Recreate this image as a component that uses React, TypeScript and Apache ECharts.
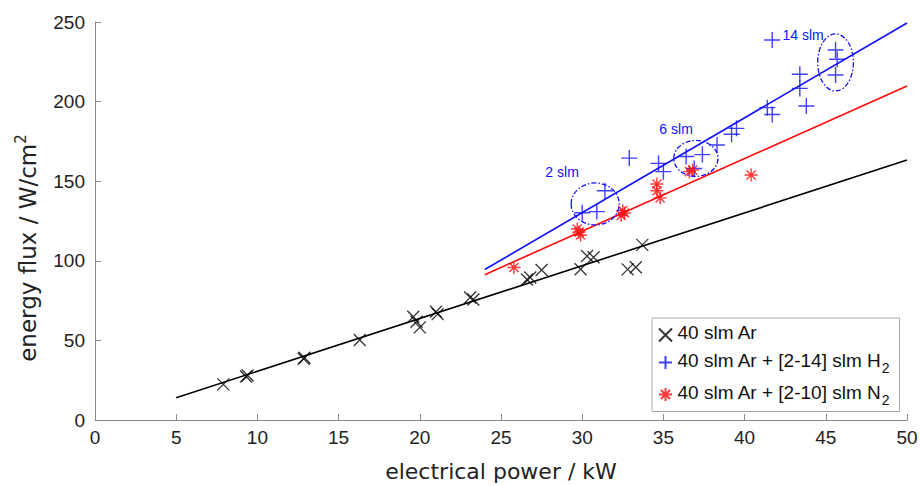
import React, { useEffect, useRef } from "react";
import * as echarts from "echarts";

const xTicks = [0, 5, 10, 15, 20, 25, 30, 35, 40, 45, 50];
const yTicks = [0, 50, 100, 150, 200, 250];

const arPower = [7.9, 9.3, 9.4, 12.85, 12.9, 16.3, 19.6, 19.8, 20.0, 21.0, 21.1, 23.1, 23.3, 26.6, 26.8, 27.5, 29.9, 30.3, 30.7, 32.8, 33.3, 33.7];
const arFlux = [22.4, 27.3, 28.0, 38.5, 39.1, 50.3, 64.9, 61.7, 58.2, 68.0, 66.5, 77.0, 75.7, 88.3, 89.5, 94.2, 94.7, 103.0, 102.2, 94.6, 95.9, 110.0];

const h2Power = [30.0, 30.9, 31.4, 32.9, 34.7, 35.0, 36.4, 37.4, 36.9, 38.3, 39.2, 39.5, 41.4, 41.7, 41.7, 43.4, 43.4, 43.8, 45.6, 45.7, 45.6];
const h2Flux = [130.2, 130.9, 144.0, 164.5, 161.2, 156.0, 165.5, 166.7, 158.0, 172.7, 179.5, 183.2, 196.2, 191.9, 238.7, 217.2, 208.3, 197.2, 232.4, 226.6, 216.7];

const n2Power = [25.8, 29.7, 29.9, 29.8, 32.5, 32.4, 32.6, 34.6, 34.6, 34.8, 36.6, 36.8, 40.4];
const n2Flux = [95.8, 120.0, 116.2, 118.0, 131.5, 128.5, 130.0, 148.2, 144.0, 139.5, 156.0, 157.0, 153.9];

const arFitX = [5, 50];
const arFitY = [14.0, 163.3];
const h2FitX = [24, 50];
const h2FitY = [94.5, 249.4];
const n2FitX = [24, 50];
const n2FitY = [91.3, 209.8];

// ellipse centers (x, y) and radii (x, y) in data units
const ellipseCx = [30.8, 37.0, 45.6];
const ellipseCy = [135.7, 164.3, 224.6];
const ellipseRx = [1.48, 1.36, 1.1];
const ellipseRy = [13.2, 11.3, 17.9];

const noteText = ["2 slm", "6 slm", "14 slm"];
const noteX = [28.76, 35.78, 43.6];
const noteY = [155.8, 182.8, 241.8];

const seriesNames = ["40 slm Ar", "40 slm Ar + [2-14] slm H2", "40 slm Ar + [2-10] slm N2"];

const FONT = "'Liberation Sans', Arial, Helvetica, sans-serif";
const TFONT = "'DejaVu Sans', 'Liberation Sans', Arial, sans-serif";
const BLUE = "#1010ff";
const RED = "#ff0a0a";

const crossPath = "path://M0,0L10,10M10,0L0,10";
const plusPath = "path://M5,0L5,10M0,5L10,5";
const starPath = "path://M5,0L5,10M0,5L10,5M1.5,1.5L8.5,8.5M1.5,8.5L8.5,1.5";

const zip = (a: number[], b: number[]) => a.map((v, i) => [v, b[i]]);

export default function App() {
  const ref = useRef<HTMLDivElement>(null);
  useEffect(() => {
    if (!ref.current) return;
    const chart = echarts.init(ref.current, undefined, { renderer: "svg" });
    const axisColor = "#8a8a8a";
    const option: any = {
      animation: false,
      backgroundColor: "#ffffff",
      textStyle: { fontFamily: FONT },
      grid: { left: 95, right: 13, top: 22, bottom: 66, outerBoundsMode: "none" },
      xAxis: {
        type: "value",
        min: 0,
        max: 50,
        interval: 5,
        name: "electrical power / kW",
        nameLocation: "middle",
        nameGap: 40,
        nameTextStyle: { fontSize: 22, color: "#222", fontFamily: TFONT },
        axisLine: { show: true, lineStyle: { color: axisColor, width: 1 } },
        axisTick: { show: true, inside: true, length: 6, lineStyle: { color: axisColor } },
        axisLabel: {
          fontSize: 19,
          color: "#222",
          margin: 8,
          fontFamily: FONT,
          formatter: (v: number) => (xTicks.includes(v) ? String(v) : ""),
        },
        splitLine: { show: false },
      },
      yAxis: {
        type: "value",
        min: 0,
        max: 250,
        interval: 50,
        name: "{a|energy flux / W/cm}{s|2}",
        nameLocation: "middle",
        nameGap: 56,
        nameTextStyle: {
          color: "#222",
          fontFamily: TFONT,
          padding: [0, 54, 0, 0],
          rich: {
            a: { fontSize: 23, color: "#222", fontFamily: TFONT, lineHeight: 26, verticalAlign: "bottom" },
            s: { fontSize: 15, color: "#222", fontFamily: TFONT, lineHeight: 26, verticalAlign: "top" },
          },
        },
        axisLine: { show: true, lineStyle: { color: axisColor, width: 1 } },
        axisTick: { show: true, inside: true, length: 6, lineStyle: { color: axisColor } },
        axisLabel: {
          fontSize: 19,
          color: "#222",
          margin: 10,
          fontFamily: FONT,
          formatter: (v: number) => (yTicks.includes(v) ? String(v) : ""),
        },
        splitLine: { show: false },
      },
      legend: {
        orient: "vertical",
        left: 652,
        top: 318,
        data: seriesNames,
        backgroundColor: "#ffffff",
        borderColor: "#aaaaaa",
        borderWidth: 1,
        borderRadius: 0,
        padding: [5, 10, 5, 6],
        itemGap: 7,
        itemWidth: 14,
        itemHeight: 13,
        formatter: (name: string) => {
          if (name.endsWith("H2")) return "{t|40 slm Ar + [2-14] slm H}{s|2}";
          if (name.endsWith("N2")) return "{t|40 slm Ar + [2-10] slm N}{s|2}";
          return "{t|" + name + "}";
        },
        textStyle: {
          fontFamily: FONT,
          color: "#111",
          rich: {
            t: { fontSize: 19, color: "#111", fontFamily: FONT, lineHeight: 24, verticalAlign: "top" },
            s: { fontSize: 14, color: "#111", fontFamily: FONT, lineHeight: 24, verticalAlign: "bottom", padding: [11, 0, 0, 0] },
          },
        },
      },
      series: [
        {
          type: "line",
          data: zip(arFitX, arFitY),
          symbol: "none",
          lineStyle: { color: "#000", width: 1.6 },
          silent: true,
          z: 1,
        },
        {
          type: "line",
          data: zip(h2FitX, h2FitY),
          symbol: "none",
          lineStyle: { color: BLUE, width: 1.6 },
          silent: true,
          z: 1,
        },
        {
          type: "line",
          data: zip(n2FitX, n2FitY),
          symbol: "none",
          lineStyle: { color: RED, width: 1.6 },
          silent: true,
          z: 1,
        },
        {
          name: seriesNames[0],
          type: "scatter",
          data: zip(arPower, arFlux),
          symbol: crossPath,
          symbolSize: 12,
          itemStyle: { color: "rgba(0,0,0,0)", borderColor: "#000", borderWidth: 1.3 },
          z: 3,
        },
        {
          name: seriesNames[1],
          type: "scatter",
          data: zip(h2Power, h2Flux),
          symbol: plusPath,
          symbolSize: 16,
          itemStyle: { color: "rgba(0,0,0,0)", borderColor: BLUE, borderWidth: 1.4 },
          z: 3,
        },
        {
          name: seriesNames[2],
          type: "scatter",
          data: zip(n2Power, n2Flux),
          symbol: starPath,
          symbolSize: 13,
          itemStyle: { color: "rgba(0,0,0,0)", borderColor: RED, borderWidth: 1.4 },
          z: 3,
        },
        {
          type: "custom",
          silent: true,
          z: 4,
          data: ellipseCx.map((cx, i) => [cx, ellipseCy[i], ellipseRx[i], ellipseRy[i]]),
          encode: { x: 0, y: 1 },
          renderItem: (params: any, api: any) => {
            const c = api.coord([api.value(0), api.value(1)]);
            const s = api.size([api.value(2), api.value(3)]);
            return {
              type: "ellipse",
              shape: { cx: c[0], cy: c[1], rx: s[0], ry: s[1] },
              style: { fill: "none", stroke: BLUE, lineWidth: 1.3, lineDash: [5, 2, 1.5, 2] },
            };
          },
        },
        {
          type: "custom",
          silent: true,
          z: 4,
          data: noteX.map((x, i) => [x, noteY[i]]),
          encode: { x: 0, y: 1 },
          renderItem: (params: any, api: any) => {
            const c = api.coord([api.value(0), api.value(1)]);
            return {
              type: "text",
              x: c[0],
              y: c[1],
              style: {
                text: noteText[params.dataIndex],
                fill: BLUE,
                font: "14px " + FONT,
                align: "center",
                verticalAlign: "middle",
              },
            };
          },
        },
      ],
    };
    chart.setOption(option);
    return () => chart.dispose();
  }, []);
  return (
    <div
      ref={ref}
      style={{ position: "absolute", left: 0, top: 0, width: 920, height: 486 }}
    />
  );
}
